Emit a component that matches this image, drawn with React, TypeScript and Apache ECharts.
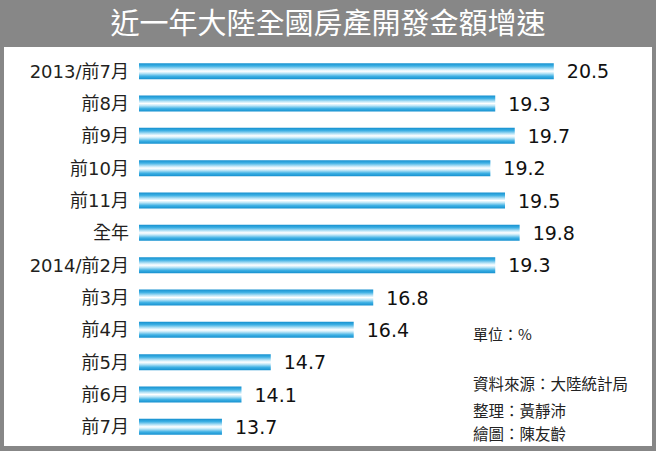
import React, { useEffect, useRef } from "react";
import * as echarts from "echarts";

const titleText = "近一年大陸全國房產開發金額增速";
const categories = [
  "2013/前7月",
  "前8月",
  "前9月",
  "前10月",
  "前11月",
  "全年",
  "2014/前2月",
  "前3月",
  "前4月",
  "前5月",
  "前6月",
  "前7月",
];
const values = [20.5, 19.3, 19.7, 19.2, 19.5, 19.8, 19.3, 16.8, 16.4, 14.7, 14.1, 13.7];
const notes = ["單位：%", "資料來源：大陸統計局", "整理：黃靜沛", "繪圖：陳友齡"];

export default function App() {
  const ref = useRef<HTMLDivElement>(null);
  useEffect(() => {
    if (!ref.current) return;
    const chart = echarts.init(ref.current, null, { renderer: "svg" });
    const cjk = "'Noto Sans CJK TC', sans-serif";
    const labelFont = "'DejaVu Sans', 'Noto Sans CJK TC', sans-serif";
    const barGradient = new echarts.graphic.LinearGradient(0, 0, 0, 1, [
      { offset: 0, color: "#1590cf" },
      { offset: 0.18, color: "#3db0e4" },
      { offset: 0.38, color: "#bfe6f7" },
      { offset: 0.5, color: "#ffffff" },
      { offset: 0.62, color: "#c5e9f8" },
      { offset: 0.82, color: "#3db0e4" },
      { offset: 1, color: "#1590cf" },
    ]);
    const note = (i: number, y: number, size: number) => ({
      type: "text",
      x: 473,
      y,
      style: {
        text: notes[i],
        fill: "#222",
        fontSize: size,
        verticalAlign: "middle",
        fontFamily: cjk,
      },
    });
    chart.setOption({
      animation: false,
      backgroundColor: "#878787",
      textStyle: { fontFamily: labelFont },
      graphic: [
        {
          type: "rect",
          z: -10,
          shape: { x: 4, y: 47, width: 648, height: 399 },
          style: { fill: "#ffffff" },
        },
        {
          type: "text",
          left: "center",
          top: 6,
          style: {
            text: titleText,
            fill: "#ffffff",
            fontSize: 29,
            fontFamily: cjk,
          },
        },
        note(0, 333, 15),
        note(1, 383, 15.5),
        note(2, 410, 15.5),
        note(3, 433, 15.5),
      ],
      grid: { left: 139, width: 488, top: 55, height: 388, containLabel: false },
      xAxis: {
        type: "value",
        min: 12,
        max: 22,
        show: false,
      },
      yAxis: {
        type: "category",
        data: categories,
        inverse: true,
        axisLine: { show: false },
        axisTick: { show: false },
        splitLine: { show: false },
        axisLabel: {
          color: "#231f20",
          fontSize: 18,
          margin: 10,
          fontFamily: labelFont,
        },
      },
      series: [
        {
          type: "bar",
          data: values,
          barWidth: 16,
          itemStyle: { color: barGradient },
          label: {
            show: true,
            position: "right",
            distance: 13,
            color: "#111",
            fontSize: 19,
            fontFamily: labelFont,
          },
        },
      ],
    });
    return () => chart.dispose();
  }, []);
  return (
    <div
      ref={ref}
      style={{ position: "fixed", left: 0, top: 0, width: 656, height: 451 }}
    />
  );
}
